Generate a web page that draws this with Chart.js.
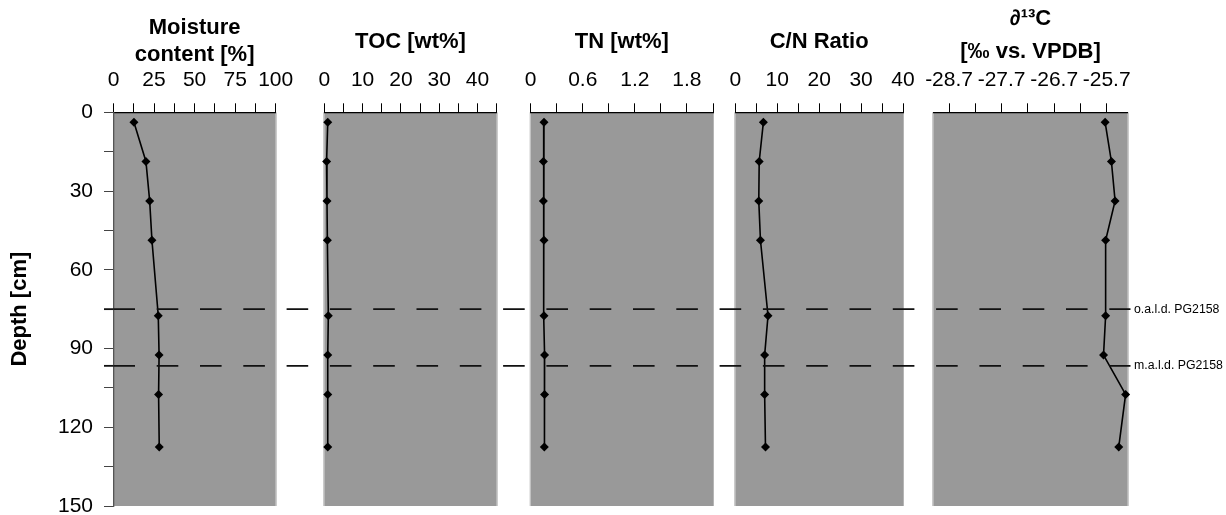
<!DOCTYPE html>
<html lang="en">
<head>
<meta charset="UTF-8">
<title>PG2158 sediment profile</title>
<script src="https://cdn.jsdelivr.net/npm/chart.js"></script>
<style>
  html, body { margin: 0; padding: 0; background: #fff; overflow: hidden; }
  #wrap { position: relative; width: 1226px; height: 515px; }
  #wrap canvas { position: absolute; top: 0; }
</style>
</head>
<body>
<div id="wrap"></div>
<script>
// sample depths [cm], shared by all panels
const depths = [3.75, 18.75, 33.75, 48.75, 77.5, 92.5, 107.5, 127.5];

const moisture = [12.6, 20.0, 22.3, 23.7, 27.6, 28.1, 27.8, 28.2];
const toc = [0.9, 0.6, 0.7, 0.8, 1.05, 0.9, 0.9, 0.9];
const tn = [0.153, 0.146, 0.146, 0.153, 0.153, 0.16, 0.16, 0.157];
const cnRatio = [6.7, 5.7, 5.6, 6.0, 7.8, 7.0, 7.0, 7.2];
const d13c = [-25.73, -25.61, -25.54, -25.72, -25.72, -25.76, -25.34, -25.47];

// depth axis
const depthTicks = [0, 15, 30, 45, 60, 75, 90, 105, 120, 135, 150];
const depthLabels = ['0', '', '30', '', '60', '', '90', '', '120', '', '150'];

// x axes (ticks + labels, '' = minor tick)
const moistureTicks = [0, 12.5, 25, 37.5, 50, 62.5, 75, 87.5, 100];
const moistureLabels = ['0', '', '25', '', '50', '', '75', '', '100'];
const tocTicks = [0, 5, 10, 15, 20, 25, 30, 35, 40, 45];
const tocLabels = ['0', '', '10', '', '20', '', '30', '', '40', ''];
const tnTicks = [0, 0.3, 0.6, 0.9, 1.2, 1.5, 1.8, 2.1];
const tnLabels = ['0', '', '0.6', '', '1.2', '', '1.8', ''];
const cnTicks = [0, 5, 10, 15, 20, 25, 30, 35, 40];
const cnLabels = ['0', '', '10', '', '20', '', '30', '', '40'];
const d13cTicks = [-28.7, -28.2, -27.7, -27.2, -26.7, -26.2, -25.7];
const d13cLabels = ['-28.7', '', '-27.7', '', '-26.7', '', '-25.7'];

// lithological boundaries
const boundaryDepths = [75, 96.6];
const boundaryLabels = ['o.a.l.d. PG2158', 'm.a.l.d. PG2158'];

Chart.defaults.font.family = '"Liberation Sans", Arial, sans-serif';
Chart.defaults.color = '#000';

const AREA_TOP = 112.3, AREA_BOTTOM = 506, CANVAS_H = 520;

const panels = [
  { title: ['Moisture', 'content [%]'], values: moisture, ticks: moistureTicks, labels: moistureLabels,
    min: 0, max: 100, left: 113.5, right: 275.7, titlePad: 14.9, titleLH: 27 },
  { title: 'TOC [wt%]', values: toc, ticks: tocTicks, labels: tocLabels,
    min: 0, max: 45, left: 324.3, right: 496.7, titlePad: 28.9, titleLH: 27 },
  { title: 'TN [wt%]', values: tn, ticks: tnTicks, labels: tnLabels,
    min: 0, max: 2.1, left: 530.7, right: 713, titlePad: 28.9, titleLH: 27 },
  { title: 'C/N Ratio', values: cnRatio, ticks: cnTicks, labels: cnLabels,
    min: 0, max: 40, left: 735.3, right: 903, titlePad: 28.5, titleLH: 27 },
  { title: ['\u2202\u00b9\u00b3C', '[\u2030 vs. VPDB]'], values: d13c, ticks: d13cTicks, labels: d13cLabels,
    min: -29.0, max: -25.3, left: 933.3, right: 1127.7, titlePad: 2.6, titleLH: 33 }
];

const panelBg = {
  id: 'panelBg',
  beforeDraw(chart) {
    const a = chart.chartArea, ctx = chart.ctx;
    ctx.save();
    ctx.fillStyle = '#999999';
    ctx.fillRect(a.left, a.top, a.right - a.left, a.bottom - a.top);
    ctx.strokeStyle = '#b5b5b5';
    ctx.lineWidth = 1;
    ctx.beginPath();
    ctx.moveTo(a.right + 0.5, a.top);
    ctx.lineTo(a.right + 0.5, a.bottom);
    if (!chart.options.scales.y.display) {
      ctx.moveTo(a.left - 0.5, a.top);
      ctx.lineTo(a.left - 0.5, a.bottom);
    }
    ctx.stroke();
    ctx.restore();
  }
};

const wrap = document.getElementById('wrap');
const charts = panels.map((p, i) => {
  const first = i === 0;
  const canvasLeft = first ? 0 : Math.floor(p.left - 30);
  const canvasW = Math.ceil(p.right + 30) - canvasLeft;

  const cv = document.createElement('canvas');
  cv.width = canvasW;
  cv.height = CANVAS_H;
  cv.style.left = canvasLeft + 'px';
  cv.style.width = canvasW + 'px';
  cv.style.height = CANVAS_H + 'px';
  wrap.appendChild(cv);

  return new Chart(cv, {
    type: 'scatter',
    data: {
      datasets: [{
        data: p.values.map((v, k) => ({ x: v, y: depths[k] })),
        showLine: true,
        clip: false,
        borderColor: '#000',
        borderWidth: 1.6,
        pointStyle: 'rectRot',
        pointRadius: 4.5,
        pointBackgroundColor: '#000',
        pointBorderColor: '#000',
        pointBorderWidth: 0
      }]
    },
    options: {
      responsive: false,
      animation: false,
      events: [],
      layout: {
        padding: {
          left: first ? 0 : p.left - canvasLeft,
          right: canvasLeft + canvasW - p.right,
          top: 0,
          bottom: CANVAS_H - AREA_BOTTOM
        }
      },
      plugins: { legend: { display: false }, tooltip: { enabled: false } },
      scales: {
        x: {
          type: 'linear',
          position: 'top',
          min: p.min,
          max: p.max,
          afterBuildTicks: s => { s.ticks = p.ticks.map(v => ({ value: v })); },
          afterFit: s => { s.height = AREA_TOP; s.paddingLeft = 0; s.paddingRight = 0; },
          ticks: {
            autoSkip: false,
            maxRotation: 0,
            minRotation: 0,
            padding: 10.7,
            font: { size: 21 },
            callback: (v, k) => p.labels[k]
          },
          grid: { drawOnChartArea: false, drawTicks: true, tickLength: 9, color: '#000', lineWidth: 1 },
          border: { display: true, color: '#000', width: 1.3 },
          title: {
            display: true,
            text: p.title,
            font: { size: 22, weight: 'bold', lineHeight: p.titleLH / 22 },
            padding: { top: p.titlePad, bottom: 0 }
          }
        },
        y: {
          type: 'linear',
          display: first,
          reverse: true,
          min: 0,
          max: 150,
          afterBuildTicks: s => { s.ticks = depthTicks.map(v => ({ value: v })); },
          afterFit: s => {
            if (first) s.width = p.left;
            s.paddingTop = 0;
            s.paddingBottom = 0;
          },
          ticks: {
            autoSkip: false,
            padding: 11,
            font: { size: 21 },
            callback: (v, k) => depthLabels[k]
          },
          grid: { drawOnChartArea: false, drawTicks: true, tickLength: 9.5, color: '#444', lineWidth: 1 },
          border: { display: true, color: '#555', width: 1.3 },
          title: {
            display: true,
            text: 'Depth [cm]',
            font: { size: 22, weight: 'bold' },
            padding: { top: 7, bottom: 0 }
          }
        }
      }
    },
    plugins: [panelBg]
  });
});

// dashed boundary lines run across all panels
const ov = document.createElement('canvas');
ov.width = 1226;
ov.height = 515;
ov.style.left = '0px';
wrap.appendChild(ov);
const octx = ov.getContext('2d');
const yScale = charts[0].scales.y;
octx.strokeStyle = '#111';
octx.lineWidth = 1.8;
octx.fillStyle = '#000';
octx.font = '12.3px "Liberation Sans", Arial, sans-serif';
octx.textBaseline = 'middle';
boundaryDepths.forEach((d, i) => {
  const y = yScale.getPixelForValue(d);
  octx.setLineDash([]);
  octx.beginPath();
  octx.moveTo(104, y);
  octx.lineTo(113.4, y);
  octx.stroke();
  octx.setLineDash([21.6, 21.7]);
  octx.beginPath();
  octx.moveTo(113.4, y);
  octx.lineTo(1130.5, y);
  octx.stroke();
  octx.fillText(boundaryLabels[i], 1134, y);
});
</script>
</body>
</html>
